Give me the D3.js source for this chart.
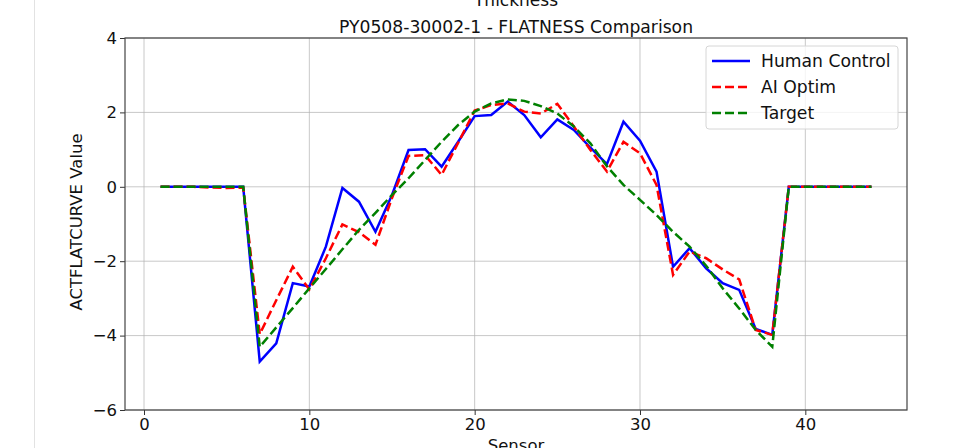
<!DOCTYPE html>
<html>
<head>
<meta charset="utf-8">
<script src="https://cdn.jsdelivr.net/npm/d3@7"></script>
<style>
  body { margin: 0; background: #fff; }
  svg { display: block; font-family: "DejaVu Sans", sans-serif; }
  .grid line { stroke: #b0b0b0; stroke-opacity: 0.7; }
</style>
</head>
<body>
<svg id="chart" width="958" height="448"></svg>
<script>
// chart values
const sensors = d3.range(1, 45);
const humanControl = [0, 0, 0, 0, 0, 0, -4.70, -4.21, -2.59, -2.68, -1.61, -0.03, -0.40, -1.21, -0.22,
    0.99, 1.01, 0.54, 1.21, 1.90, 1.93, 2.29, 1.93, 1.33, 1.81, 1.53, 1.05, 0.61, 1.75, 1.24, 0.41,
    -2.15, -1.65, -2.19, -2.59, -2.77, -3.82, -3.98, 0, 0, 0, 0, 0, 0];
const aiOptim = [0, 0, 0, -0.02, -0.03, -0.02, -3.96, -3.05, -2.15, -2.76, -1.92, -1.01, -1.22, -1.56, -0.30,
    0.83, 0.85, 0.32, 1.18, 2.05, 2.20, 2.24, 2.02, 1.97, 2.23, 1.62, 0.99, 0.41, 1.21, 0.90, 0.05,
    -2.37, -1.74, -1.92, -2.22, -2.49, -3.85, -3.98, 0, 0, 0, 0, 0, 0];
const target = [0, 0, 0, 0, 0, 0, -4.30, -3.78, -3.26, -2.73, -2.21, -1.68, -1.16, -0.70, -0.22,
    0.23, 0.72, 1.21, 1.66, 2.02, 2.24, 2.35, 2.31, 2.17, 1.97, 1.62, 1.17, 0.55, 0.05, -0.35, -0.76,
    -1.21, -1.61, -2.12, -2.73, -3.27, -3.85, -4.30, 0, 0, 0, 0, 0, 0];
const xTicks = [0, 10, 20, 30, 40];
const yTicks = [-6, -4, -2, 0, 2, 4];

const series = [
    {name: "Human Control", values: humanControl, color: "#0000ff", dash: null},
    {name: "AI Optim", values: aiOptim, color: "#ff0000", dash: "9,4"},
    {name: "Target", values: target, color: "#008000", dash: "9,4"}
];

const margin = {top: 38, right: 51, bottom: 38, left: 125},
    width = 958 - margin.left - margin.right,
    height = 448 - margin.top - margin.bottom;

const svg = d3.select("#chart");

// page border on the left
svg.append("line")
    .attr("x1", 34.5).attr("x2", 34.5)
    .attr("y1", 0).attr("y2", 448)
    .attr("stroke", "#e2e2e2");

const g = svg.append("g")
    .attr("transform", `translate(${margin.left},${margin.top})`);

const pad = (44 - 1) * 0.05;
const x = d3.scaleLinear().domain([1 - pad, 44 + pad]).range([0, width]);
const y = d3.scaleLinear().domain([-6, 4]).range([height, 0]);

// grid
g.append("g").attr("class", "grid")
    .selectAll("line").data(xTicks).enter().append("line")
    .attr("x1", d => x(d)).attr("x2", d => x(d))
    .attr("y1", 0).attr("y2", height);
g.append("g").attr("class", "grid")
    .selectAll("line").data(yTicks).enter().append("line")
    .attr("x1", 0).attr("x2", width)
    .attr("y1", d => y(d)).attr("y2", d => y(d));

const xAxis = g.append("g")
    .attr("transform", `translate(0,${height})`)
    .call(d3.axisBottom(x).tickValues(xTicks).tickSize(5).tickPadding(3).tickFormat(d3.format("d")));
const yAxis = g.append("g")
    .call(d3.axisLeft(y).tickValues(yTicks).tickSize(5).tickPadding(3)
        .tickFormat(d => d < 0 ? "\u2212" + Math.abs(d) : d));
[xAxis, yAxis].forEach(a => {
    a.select(".domain").remove();
    a.selectAll("line").attr("stroke", "#333");
    a.selectAll("text").attr("font-size", 16.5).attr("fill", "#111")
        .attr("font-family", "DejaVu Sans");
});

// lines
const line = d3.line().x((d, i) => x(sensors[i])).y(d => y(d));
series.forEach(s => {
    g.append("path")
        .datum(s.values)
        .attr("fill", "none")
        .attr("stroke", s.color)
        .attr("stroke-width", 2.5)
        .attr("stroke-dasharray", s.dash)
        .attr("d", line);
});

// frame
g.append("rect")
    .attr("width", width).attr("height", height)
    .attr("fill", "none").attr("stroke", "#444").attr("stroke-width", 1.2);

// titles
svg.append("text")
    .attr("x", margin.left + width / 2).attr("y", 6)
    .attr("text-anchor", "middle").attr("font-size", 17).attr("fill", "#111")
    .text("Thickness");
svg.append("text")
    .attr("x", margin.left + width / 2).attr("y", 33)
    .attr("text-anchor", "middle").attr("font-size", 17.2).attr("fill", "#111")
    .text("PY0508-30002-1 - FLATNESS Comparison");
svg.append("text")
    .attr("x", margin.left + width / 2).attr("y", 451)
    .attr("text-anchor", "middle").attr("font-size", 16.5).attr("fill", "#111")
    .text("Sensor");
svg.append("text")
    .attr("transform", `translate(82,${margin.top + height / 2 - 2}) rotate(-90)`)
    .attr("text-anchor", "middle").attr("font-size", 16.5).attr("fill", "#111")
    .text("ACTFLATCURVE Value");

// legend
const legend = svg.append("g").attr("transform", "translate(706,46)");
legend.append("rect")
    .attr("width", 192).attr("height", 83).attr("rx", 3)
    .attr("fill", "#fff").attr("fill-opacity", 0.8)
    .attr("stroke", "#d6d6d6");
series.forEach((s, i) => {
    const ly = 15 + i * 26;
    legend.append("line")
        .attr("x1", 6).attr("x2", 44).attr("y1", ly).attr("y2", ly)
        .attr("stroke", s.color).attr("stroke-width", 2.5)
        .attr("stroke-dasharray", s.dash);
    legend.append("text")
        .attr("x", 55).attr("y", ly + 6)
        .attr("font-size", 17.2).attr("fill", "#111")
        .text(s.name);
});
</script>
</body>
</html>
